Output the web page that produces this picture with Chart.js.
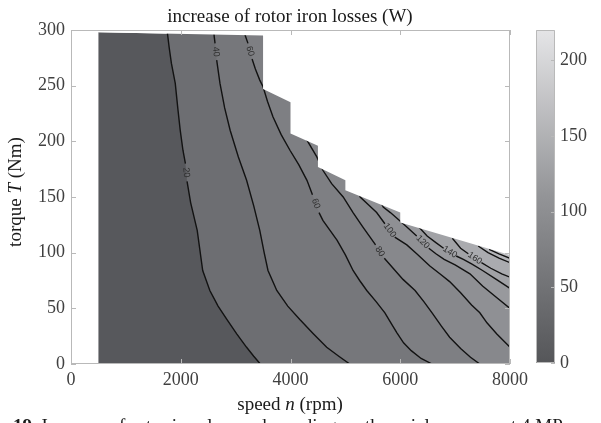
<!DOCTYPE html>
<html>
<head>
<meta charset="utf-8">
<script src="https://cdn.jsdelivr.net/npm/chart.js@4.4.1/dist/chart.umd.min.js"></script>
<style>
  body { margin: 0; background: #fff; }
  #wrap { position: relative; width: 601px; height: 423px; overflow: hidden; }
  #wrap canvas { position: absolute; left: 0; top: 0; }
  .txt { position: absolute; font-family: 'Liberation Serif', 'Times New Roman', serif; font-size: 19px; line-height: 19px; color: #1a1a1a; white-space: nowrap; }
</style>
</head>
<body>
<div id="wrap">
  <canvas id="map" width="601" height="423"></canvas>
  <canvas id="bar" width="601" height="423"></canvas>
  <div class="txt" style="left:0;width:580px;top:6px;text-align:center">increase of rotor iron losses (W)</div>
  <div class="txt" style="left:0;width:580px;top:394px;text-align:center">speed <i>n</i> (rpm)</div>
  <div class="txt" style="left:-85px;top:182px;width:200px;height:20px;line-height:20px;text-align:center;transform:rotate(-90deg)">torque <i>T</i> (Nm)</div>
  <div class="txt" style="left:13px;top:416px"><b>19.</b> Increase of rotor iron losses depending on the axial pressure at 4 MPa</div>
</div>
<script>
// axis ranges and ticks
const speedMax = 8000;
const torqueMax = 300;
const lossMax = 220;
const speedTicks = [0, 2000, 4000, 6000, 8000];
const torqueTicks = [0, 50, 100, 150, 200, 250, 300];
const lossTicks = [0, 50, 100, 150, 200];

// upper edge of the operating region: speed (rpm), torque (Nm)
const edgeSpeed = [500, 3500, 3500, 4000, 4000, 4500, 4500, 5000, 5000, 6000, 6000, 8000];
const edgeTorque = [298, 295, 247, 235, 207, 196, 177, 165, 156, 136, 127, 98];

// iso-loss lines as [speed, torque], from the upper edge down to the border
const iso20 = [[1750,300],[1790,284],[1830,270],[1900,252],[1950,228],[1990,210],[2040,192],[2085,180],[2115,164],[2180,145],[2300,120],[2400,84],[2530,66],[2680,52],[2840,40],[3020,27],[3200,15],[3330,7],[3450,0]];
const iso40 = [[2600,300],[2610,294],[2625,288],[2655,273],[2715,252],[2800,230],[2900,210],[3050,186],[3200,165],[3330,142],[3440,120],[3520,100],[3590,84],[3750,66],[3950,52],[4170,40],[4420,27],[4660,15],[4880,7],[5080,0]];
const iso60 = [[3160,300],[3175,295],[3225,288],[3300,274],[3360,265],[3440,255],[3500,249],[3580,236],[3680,222],[3830,206],[3990,192],[4150,179],[4300,165],[4400,152],[4520,136],[4590,129],[4720,120],[4850,111],[5000,98],[5140,84],[5260,75],[5390,66],[5560,56],[5720,46],[5840,36],[5940,28],[6060,19],[6200,12],[6380,5],[6580,0]];
const iso80 = [[4200,215],[4300,201],[4480,186],[4590,174],[4750,162],[4960,150],[5140,136],[5320,123],[5450,114],[5550,107],[5710,95],[5870,86],[6050,76],[6270,66],[6430,56],[6580,46],[6750,34],[6900,24],[7100,14],[7280,6],[7450,0]];
const iso100 = [[5200,162],[5270,150],[5420,143],[5570,136],[5720,126],[5900,114],[6120,107],[6300,99],[6540,88],[6750,80],[6900,74],[7100,64],[7300,53],[7450,46],[7580,37],[7760,27],[7960,17],[8000,15]];
const iso120 = [[5600,150],[5690,141],[5820,136],[5940,131],[6120,123],[6300,115],[6520,104],[6650,99],[6800,94],[7000,89],[7270,81],[7500,70],[7750,60],[8000,50]];
const iso140 = [[6300,125],[6490,115],[6650,109],[6790,104],[7020,97],[7150,94],[7300,90],[7500,84],[7750,76],[8000,68]];
const iso160 = [[6950,113],[7100,104],[7240,99],[7480,91],[7650,86],[7850,81],[8000,78]];
const iso180 = [[7420,106],[7600,100],[7800,95],[8000,91]];
const iso200 = [[7620,103],[7800,99],[8000,95]];

const isoLevels = [20, 40, 60, 80, 100, 120, 140, 160, 180, 200];
const isoLines = [iso20, iso40, iso60, iso80, iso100, iso120, iso140, iso160, iso180, iso200];

// inline labels: level and the segment of its line they sit on
const labelLevel = [20, 40, 60, 60, 80, 100, 120, 140, 160];
const labelSegment = [7, 2, 2, 13, 9, 4, 5, 3, 2];

// band fills, below 20 first
const bandColors = ['#57585c', '#6d6e72', '#76777b', '#7e7f83', '#87888c', '#8f9094', '#98999d', '#a1a2a6', '#aaabaf', '#b4b5b9', '#bebfc3'];
const grayStops = [[0, '#555659'], [0.5, '#939497'], [1, '#e5e5e7']];

const tickColor = '#404040';
const pt = ([x, y]) => ({x, y});

function area(data, color, order) {
  return { data, showLine: true, fill: 'shape', backgroundColor: color,
    borderColor: 'rgba(0,0,0,0)', borderWidth: 0, pointRadius: 0, order };
}

const edge = edgeSpeed.map((n, i) => ({x: n, y: edgeTorque[i]}));
const datasets = [];

// whole operating region in the lowest band
datasets.push(area([{x: edgeSpeed[0], y: 0}, ...edge, {x: speedMax, y: 0}], bandColors[0], 40));

// each band covers everything on the high side of its iso-line
isoLines.forEach((line, i) => {
  const poly = line.map(pt);
  const last = line[line.length - 1];
  if (last[0] < speedMax) poly.push({x: speedMax, y: 0});
  poly.push({x: speedMax, y: torqueMax}, {x: line[0][0], y: torqueMax});
  datasets.push(area(poly, bandColors[i + 1], 30 - i));
});

// iso-lines, left open where a label goes
isoLines.forEach((line, i) => {
  const gaps = labelSegment.filter((s, k) => labelLevel[k] === isoLevels[i]);
  datasets.push({
    data: line.map(pt), showLine: true, fill: false, pointRadius: 0,
    borderColor: '#121212', borderWidth: 1.4, order: 5,
    segment: { borderColor: c => gaps.includes(c.p0DataIndex) ? 'rgba(0,0,0,0)' : undefined }
  });
});

// blank out everything above the upper edge
datasets.push(area([...edge, {x: speedMax, y: torqueMax}, {x: edgeSpeed[0], y: torqueMax}], '#ffffff', 1));

// box round the plot area with inward tick marks
const frame = {
  id: 'frame',
  afterDatasetsDraw(chart, args, opts) {
    const {ctx, chartArea: a, scales} = chart;
    ctx.save();
    ctx.strokeStyle = opts.color;
    ctx.lineWidth = 1;
    ctx.beginPath();
    ctx.rect(a.left + 0.5, a.top + 0.5, a.right - a.left - 1, a.bottom - a.top - 1);
    opts.sides.forEach(side => {
      const horiz = side === 'top' || side === 'bottom';
      const scale = horiz ? scales.x : scales.y;
      scale.ticks.forEach(t => {
        const p = Math.round(scale.getPixelForValue(t.value)) + 0.5;
        if (side === 'bottom') { ctx.moveTo(p, a.bottom); ctx.lineTo(p, a.bottom - opts.len); }
        if (side === 'top') { ctx.moveTo(p, a.top); ctx.lineTo(p, a.top + opts.len); }
        if (side === 'left') { ctx.moveTo(a.left, p); ctx.lineTo(a.left + opts.len, p); }
        if (side === 'right') { ctx.moveTo(a.right, p); ctx.lineTo(a.right - opts.len, p); }
      });
    });
    ctx.stroke();
    ctx.restore();
  }
};

// level numbers written along the iso-lines
const isoLabels = {
  id: 'isoLabels',
  afterDatasetsDraw(chart) {
    const {ctx, scales: {x, y}} = chart;
    ctx.save();
    ctx.font = "9px 'Liberation Sans', Arial, sans-serif";
    ctx.fillStyle = '#2e2e2e';
    ctx.textAlign = 'center';
    ctx.textBaseline = 'middle';
    labelLevel.forEach((level, k) => {
      const line = isoLines[isoLevels.indexOf(level)];
      const a = line[labelSegment[k]], b = line[labelSegment[k] + 1];
      const x0 = x.getPixelForValue(a[0]), y0 = y.getPixelForValue(a[1]);
      const x1 = x.getPixelForValue(b[0]), y1 = y.getPixelForValue(b[1]);
      let ang = Math.atan2(y1 - y0, x1 - x0);
      if (ang > Math.PI / 2) ang -= Math.PI;
      if (ang <= -Math.PI / 2) ang += Math.PI;
      ctx.save();
      ctx.translate((x0 + x1) / 2, (y0 + y1) / 2);
      ctx.rotate(ang);
      ctx.fillText(String(level), 0, 0);
      ctx.restore();
    });
    ctx.restore();
  }
};

const tickFont = {family: 'Liberation Serif', size: 18};
const plain = v => String(v);

new Chart(document.getElementById('map'), {
  type: 'scatter',
  data: {datasets},
  options: {
    responsive: false,
    animation: false,
    events: [],
    layout: {padding: {left: 0, top: 30, right: 91, bottom: 0}},
    plugins: {
      legend: {display: false},
      tooltip: {enabled: false},
      frame: {color: '#b9b9b9', len: 5, sides: ['left', 'right', 'top', 'bottom']}
    },
    scales: {
      x: {
        type: 'linear', min: 0, max: speedMax,
        afterBuildTicks: s => { s.ticks = speedTicks.map(v => ({value: v})); },
        afterFit: s => { s.height = 59; },
        grid: {display: false, drawTicks: false},
        border: {display: false},
        ticks: {font: tickFont, color: tickColor, padding: 5, maxRotation: 0, autoSkip: false, callback: plain}
      },
      y: {
        type: 'linear', min: 0, max: torqueMax,
        afterBuildTicks: s => { s.ticks = torqueTicks.map(v => ({value: v})); },
        afterFit: s => { s.width = 71; },
        grid: {display: false, drawTicks: false},
        border: {display: false},
        ticks: {font: tickFont, color: tickColor, padding: 6, autoSkip: false, callback: plain}
      }
    }
  },
  plugins: [frame, isoLabels]
});

// colour scale
new Chart(document.getElementById('bar'), {
  type: 'bar',
  data: {
    labels: [''],
    datasets: [{
      data: [lossMax],
      borderWidth: 0,
      barPercentage: 1,
      categoryPercentage: 1,
      backgroundColor: c => {
        const a = c.chart.chartArea;
        if (!a) return grayStops[0][1];
        const g = c.chart.ctx.createLinearGradient(0, a.bottom, 0, a.top);
        grayStops.forEach(([s, col]) => g.addColorStop(s, col));
        return g;
      }
    }]
  },
  options: {
    responsive: false,
    animation: false,
    events: [],
    layout: {padding: {left: 536, top: 30, right: 0, bottom: 60}},
    plugins: {
      legend: {display: false},
      tooltip: {enabled: false},
      frame: {color: '#b9b9b9', len: 4, sides: ['right']}
    },
    scales: {
      x: {display: false},
      y: {
        position: 'right', min: 0, max: lossMax,
        afterBuildTicks: s => { s.ticks = lossTicks.map(v => ({value: v})); },
        afterFit: s => { s.width = 46; },
        grid: {display: false, drawTicks: false},
        border: {display: false},
        ticks: {font: tickFont, color: tickColor, padding: 5, autoSkip: false, callback: plain}
      }
    }
  },
  plugins: [frame]
});
</script>
</body>
</html>
